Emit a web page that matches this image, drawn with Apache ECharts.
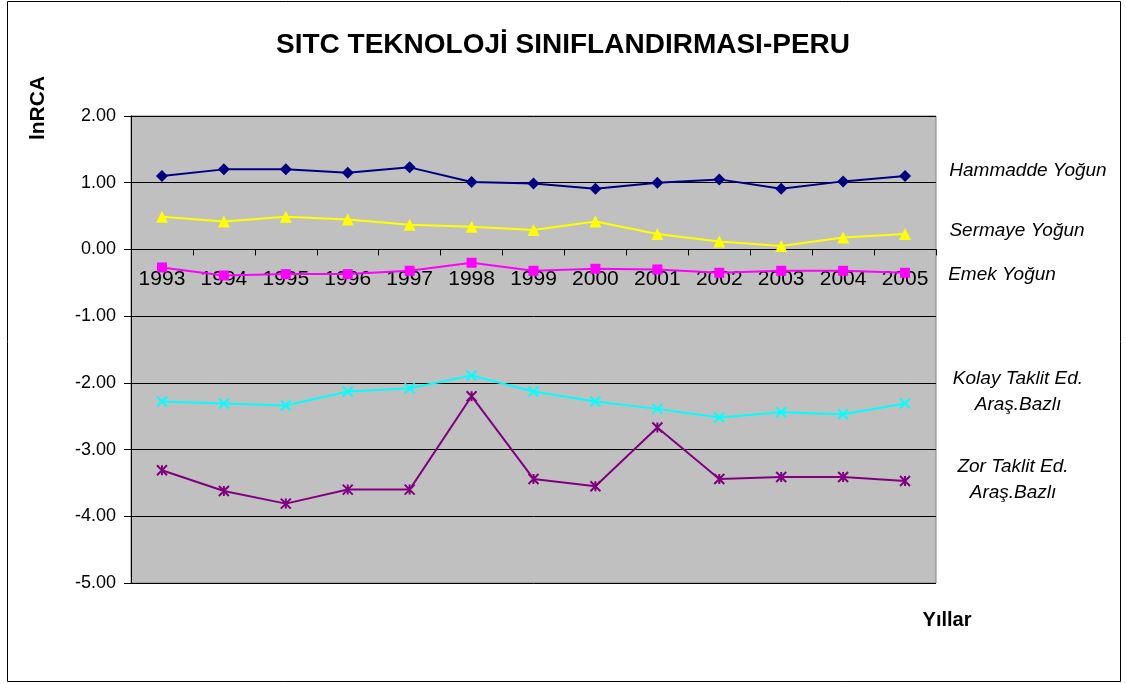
<!DOCTYPE html>
<html>
<head>
<meta charset="utf-8">
<title>SITC TEKNOLOJİ SINIFLANDIRMASI-PERU</title>
<script src="https://cdn.jsdelivr.net/npm/echarts@6/dist/echarts.min.js"></script>
<style>
  html, body { margin: 0; padding: 0; background: #fff; }
  #main { width: 1126px; height: 684px; }
</style>
</head>
<body>
<div id="main"></div>
<script>
// yıllar
var years = ['1993', '1994', '1995', '1996', '1997', '1998', '1999', '2000', '2001', '2002', '2003', '2004', '2005'];

// lnRCA değerleri
var hammadde = [1.10, 1.20, 1.20, 1.15, 1.23, 1.01, 0.99, 0.91, 1.00, 1.05, 0.91, 1.02, 1.10];
var sermaye  = [0.49, 0.42, 0.49, 0.45, 0.37, 0.34, 0.29, 0.42, 0.23, 0.12, 0.05, 0.18, 0.23];
var emek     = [-0.27, -0.39, -0.37, -0.37, -0.32, -0.20, -0.32, -0.29, -0.30, -0.35, -0.32, -0.32, -0.35];
var kolay    = [-2.28, -2.31, -2.34, -2.13, -2.08, -1.89, -2.13, -2.28, -2.39, -2.52, -2.44, -2.47, -2.31];
var zor      = [-3.31, -3.62, -3.81, -3.60, -3.60, -2.20, -3.44, -3.55, -2.67, -3.44, -3.41, -3.41, -3.47];

var yMin = -5, yMax = 2, yStep = 1;

var font = '"Liberation Sans", Arial, sans-serif';
var crossPath = 'path://M0,0L10,10M10,0L0,10';
var starPath = 'path://M0,0L10,10M10,0L0,10M5,0L5,10';

var gridTop = 116, gridBottom = 101, chartH = 684;
var plotH = chartH - gridTop - gridBottom;
// x ekseni sıfır çizgisinde durur
var zeroOffset = -plotH * (0 - yMin) / (yMax - yMin);

function mkSeries(name, data, color, symbol, size, stroke) {
  return {
    name: name,
    type: 'line',
    data: data,
    symbol: symbol,
    symbolSize: size,
    symbolKeepAspect: true,
    lineStyle: { color: color, width: 2 },
    itemStyle: {
      color: color,
      borderColor: color,
      borderWidth: stroke ? 2 : 0
    },
    emphasis: { disabled: true }
  };
}

var chart = echarts.init(document.getElementById('main'));
var option = {
  animation: false,
  backgroundColor: '#ffffff',
  textStyle: { fontFamily: font },
  title: {
    text: 'SITC TEKNOLOJİ SINIFLANDIRMASI-PERU',
    left: 'center',
    top: 26,
    textStyle: { fontFamily: font, fontSize: 28, fontWeight: 'bold', color: '#000' }
  },
  grid: {
    left: 131,
    right: 190,
    top: gridTop,
    bottom: gridBottom,
    show: true,
    backgroundColor: '#C0C0C0',
    borderColor: '#808080',
    borderWidth: 1
  },
  xAxis: {
    type: 'category',
    data: years,
    boundaryGap: true,
    position: 'bottom',
    offset: zeroOffset,
    axisLine: { onZero: false, lineStyle: { color: '#000', width: 1 } },
    axisTick: { show: true, length: 6, lineStyle: { color: '#000' } },
    axisLabel: { color: '#000', fontSize: 21, margin: 19, fontFamily: font, interval: 0 },
    splitLine: { show: false }
  },
  yAxis: {
    type: 'value',
    min: yMin,
    max: yMax,
    interval: yStep,
    axisLine: { show: true, lineStyle: { color: '#000', width: 1 } },
    axisTick: { show: true, length: 7, lineStyle: { color: '#000' } },
    axisLabel: {
      color: '#000',
      fontSize: 18,
      margin: 15,
      fontFamily: font,
      formatter: function (v) { return v.toFixed(2); }
    },
    splitLine: { show: true, lineStyle: { color: '#000', width: 1 } }
  },
  series: [
    mkSeries('Hammadde Yoğun', hammadde, '#000080', 'diamond', 12, false),
    mkSeries('Sermaye Yoğun', sermaye, '#FFFF00', 'triangle', 12, false),
    mkSeries('Emek Yoğun', emek, '#FF00FF', 'rect', 10, false),
    mkSeries('Kolay Taklit Ed. Araş.Bazlı', kolay, '#00FFFF', crossPath, 10, true),
    mkSeries('Zor Taklit Ed. Araş.Bazlı', zor, '#800080', starPath, 10, true)
  ],
  graphic: [
    // dış çerçeve
    { type: 'rect', silent: true, shape: { x: 7.5, y: 1.5, width: 1113, height: 680 },
      style: { fill: 'none', stroke: '#000', lineWidth: 1 } },
    // eksen adları
    { type: 'text', x: 38, y: 108, rotation: Math.PI / 2,
      style: { text: 'lnRCA', font: 'bold 21px ' + font, fill: '#000', align: 'center', verticalAlign: 'middle' } },
    { type: 'text', x: 947, y: 620,
      style: { text: 'Yıllar', font: 'bold 20px ' + font, fill: '#000', align: 'center', verticalAlign: 'middle' } },
    // seri etiketleri
    { type: 'text', x: 1028, y: 171,
      style: { text: 'Hammadde Yoğun', font: 'italic 19px ' + font, fill: '#000', align: 'center', verticalAlign: 'middle' } },
    { type: 'text', x: 1017, y: 231,
      style: { text: 'Sermaye Yoğun', font: 'italic 19px ' + font, fill: '#000', align: 'center', verticalAlign: 'middle' } },
    { type: 'text', x: 1002, y: 275,
      style: { text: 'Emek Yoğun', font: 'italic 19px ' + font, fill: '#000', align: 'center', verticalAlign: 'middle' } },
    { type: 'text', x: 1018, y: 392,
      style: { text: 'Kolay Taklit Ed.\nAraş.Bazlı', font: 'italic 19px ' + font, fill: '#000', align: 'center', verticalAlign: 'middle', lineHeight: 26 } },
    { type: 'text', x: 1013, y: 480,
      style: { text: 'Zor Taklit Ed.\nAraş.Bazlı', font: 'italic 19px ' + font, fill: '#000', align: 'center', verticalAlign: 'middle', lineHeight: 26 } }
  ]
};
chart.setOption(option);
</script>
</body>
</html>
